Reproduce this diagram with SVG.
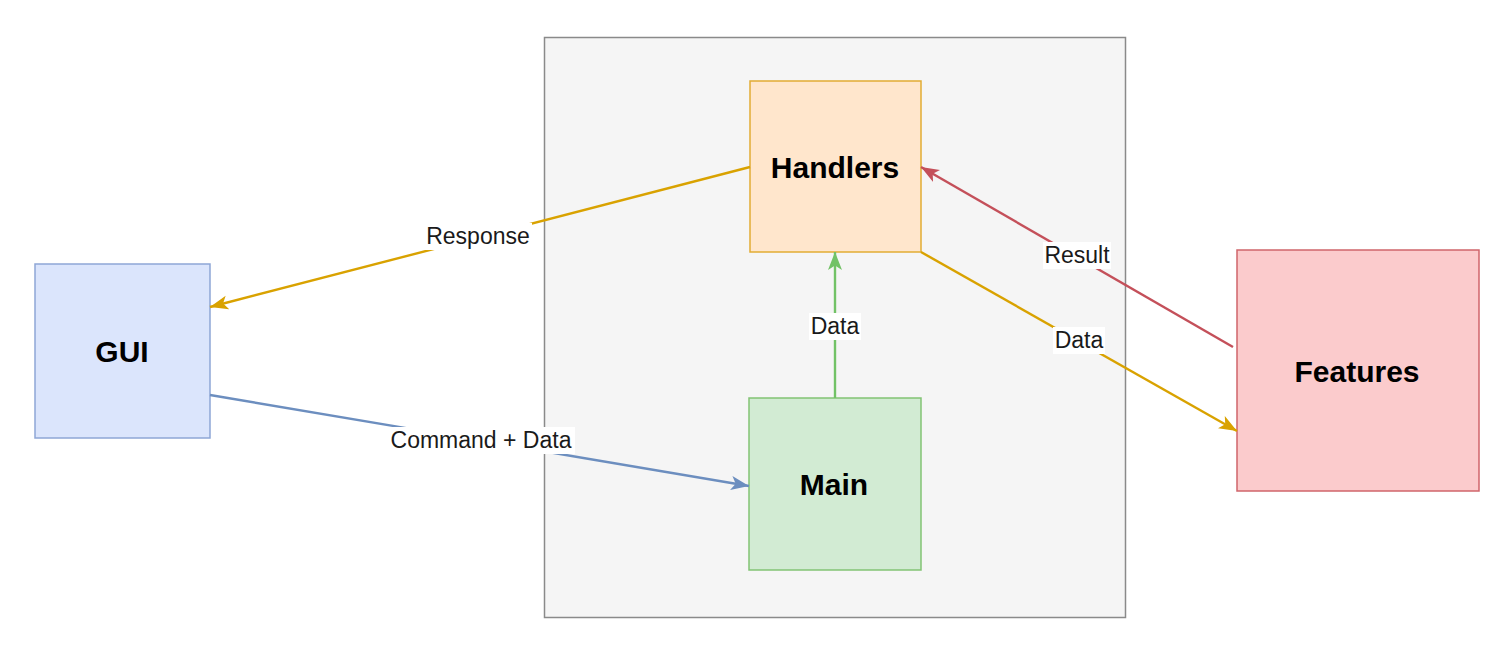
<svg xmlns="http://www.w3.org/2000/svg" width="1511" height="663" viewBox="0 0 1511 663">
  <style>
    .node-label { font-family: "Liberation Sans", Arial, sans-serif; font-weight: bold; font-size: 30px; fill: #000; text-anchor: middle; }
    .edge-label { font-family: "Liberation Sans", Arial, sans-serif; font-size: 23px; fill: #1a1a1a; text-anchor: middle; }
    .edge { fill: none; stroke-width: 2.4; }
    .lbl-bg { fill: #ffffff; }
  </style>
  <defs>
    <marker id="arrow-orange" markerUnits="userSpaceOnUse" markerWidth="20" markerHeight="16" refX="18" refY="8" orient="auto">
      <path d="M0,1 L18,8 L0,15 L4.5,8 Z" fill="#d9a200"/>
    </marker>
    <marker id="arrow-blue" markerUnits="userSpaceOnUse" markerWidth="20" markerHeight="16" refX="18" refY="8" orient="auto">
      <path d="M0,1 L18,8 L0,15 L4.5,8 Z" fill="#6c8ebf"/>
    </marker>
    <marker id="arrow-green" markerUnits="userSpaceOnUse" markerWidth="20" markerHeight="16" refX="18" refY="8" orient="auto">
      <path d="M0,1 L18,8 L0,15 L4.5,8 Z" fill="#72c266"/>
    </marker>
    <marker id="arrow-red" markerUnits="userSpaceOnUse" markerWidth="20" markerHeight="16" refX="18" refY="8" orient="auto">
      <path d="M0,1 L18,8 L0,15 L4.5,8 Z" fill="#c4505a"/>
    </marker>
  </defs>

  <rect width="1511" height="663" fill="#ffffff"/>

  <g id="container">
    <rect x="544.5" y="37.5" width="581" height="580" fill="#f5f5f5" stroke="#8a8a8a" stroke-width="1.5"/>
  </g>

  <g id="handlers">
    <rect x="750" y="81" width="171" height="171" fill="#ffe6cc" stroke="#e2ac33" stroke-width="1.5"/>
    <text class="node-label" x="835" y="178">Handlers</text>
  </g>

  <g id="main">
    <rect x="749" y="398" width="172" height="172" fill="#d2ebd3" stroke="#82c374" stroke-width="1.5"/>
    <text class="node-label" x="834" y="495">Main</text>
  </g>

  <g id="gui">
    <rect x="35" y="264" width="175" height="174" fill="#dbe5fc" stroke="#8ea6d6" stroke-width="1.5"/>
    <text class="node-label" x="122" y="362">GUI</text>
  </g>

  <g id="features">
    <rect x="1237" y="250" width="242" height="241" fill="#fbcbcc" stroke="#d0656b" stroke-width="1.5"/>
    <text class="node-label" x="1357" y="382">Features</text>
  </g>

  <g id="connectors">
    <line class="edge" x1="750" y1="167" x2="210" y2="307" stroke="#d9a200" marker-end="url(#arrow-orange)"/>
    <line class="edge" x1="210" y1="395" x2="749" y2="486" stroke="#6c8ebf" marker-end="url(#arrow-blue)"/>
    <line class="edge" x1="835" y1="398" x2="835" y2="252" stroke="#72c266" marker-end="url(#arrow-green)"/>
    <line class="edge" x1="921" y1="252" x2="1237" y2="431" stroke="#d9a200" marker-end="url(#arrow-orange)"/>
    <line class="edge" x1="1233" y1="347" x2="921" y2="167" stroke="#c4505a" marker-end="url(#arrow-red)"/>

    <rect class="lbl-bg" x="425" y="223" width="107" height="27"/>
    <text class="edge-label" x="478" y="244">Response</text>

    <rect class="lbl-bg" x="387" y="427" width="188" height="27"/>
    <text class="edge-label" x="481" y="448">Command + Data</text>

    <rect class="lbl-bg" x="809" y="313" width="52" height="27"/>
    <text class="edge-label" x="835" y="334">Data</text>

    <rect class="lbl-bg" x="1053" y="327" width="52" height="27"/>
    <text class="edge-label" x="1079" y="348">Data</text>

    <rect class="lbl-bg" x="1043" y="242" width="68" height="27"/>
    <text class="edge-label" x="1077" y="263">Result</text>
  </g>
</svg>
